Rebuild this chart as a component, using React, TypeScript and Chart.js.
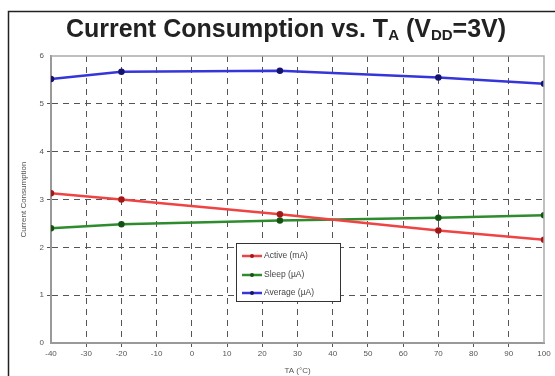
import React, { useEffect, useRef } from "react";
import { Chart, registerables } from "chart.js";

Chart.register(...registerables);

const temps = [-40, -20, 25, 70, 100];
const activeMA = [3.13, 3.0, 2.69, 2.35, 2.16];
const sleepUA = [2.4, 2.48, 2.56, 2.62, 2.67];
const averageUA = [5.52, 5.67, 5.69, 5.55, 5.42];
const seriesNames = ["Active (mA)", "Sleep (\u00B5A)", "Average (\u00B5A)"];
const xTitle = "TA (\u00B0C)";
const yTitle = "Current Consumption";

const FONT = "'Liberation Sans', Arial, sans-serif";

const framePlugin = {
  id: "framePlugin",
  beforeDraw(chart: any) {
    const { ctx, width, height } = chart;
    ctx.save();
    ctx.fillStyle = "#ffffff";
    ctx.fillRect(0, 0, width, height);
    ctx.strokeStyle = "#222";
    ctx.lineWidth = 1.5;
    ctx.beginPath();
    ctx.moveTo(8.5, height + 2);
    ctx.lineTo(8.5, 11.5);
    ctx.lineTo(width + 2, 11.5);
    ctx.stroke();
    ctx.restore();
  },
  afterDraw(chart: any) {
    const { ctx, chartArea } = chart;
    ctx.save();
    ctx.strokeStyle = "#aaa";
    ctx.lineWidth = 1.5;
    ctx.beginPath();
    ctx.moveTo(chartArea.left, chartArea.top);
    ctx.lineTo(chartArea.right, chartArea.top);
    ctx.lineTo(chartArea.right, chartArea.bottom);
    ctx.stroke();

    const big = "bold 25px " + FONT;
    const small = "bold 15px " + FONT;
    const parts: [string, boolean][] = [
      ["Current Consumption vs. T", false],
      ["A", true],
      [" (V", false],
      ["DD", true],
      ["=3V)", false],
    ];
    let total = 0;
    for (const [t, sub] of parts) {
      ctx.font = sub ? small : big;
      total += ctx.measureText(t).width;
    }
    let x = 286 - total / 2;
    const baseY = 37;
    ctx.fillStyle = "#222";
    ctx.textBaseline = "alphabetic";
    for (const [t, sub] of parts) {
      ctx.font = sub ? small : big;
      ctx.fillText(t, x, sub ? baseY + 3 : baseY);
      x += ctx.measureText(t).width;
    }

    const lx = 236, ly = 243, lw = 104, lh = 58;
    ctx.fillStyle = "#fff";
    ctx.fillRect(lx, ly, lw, lh);
    ctx.strokeStyle = "#333";
    ctx.lineWidth = 1;
    ctx.strokeRect(lx + 0.5, ly + 0.5, lw, lh);
    const rows = [13, 32, 50];
    chart.data.datasets.forEach((ds: any, i: number) => {
      const yy = ly + rows[i];
      ctx.strokeStyle = ds.borderColor;
      ctx.lineWidth = 2.5;
      ctx.beginPath();
      ctx.moveTo(lx + 6, yy);
      ctx.lineTo(lx + 26, yy);
      ctx.stroke();
      ctx.fillStyle = ds.pointBackgroundColor;
      ctx.beginPath();
      ctx.arc(lx + 16, yy, 2, 0, Math.PI * 2);
      ctx.fill();
      ctx.fillStyle = "#444";
      ctx.font = "8.5px " + FONT;
      ctx.textBaseline = "middle";
      ctx.fillText(ds.label, lx + 28, yy);
    });
    ctx.restore();
  },
};

export default function App() {
  const ref = useRef<HTMLCanvasElement>(null);
  useEffect(() => {
    document.body.style.margin = "0";
    const mk = (vals: number[]) => temps.map((t, i) => ({ x: t, y: vals[i] }));
    const chart = new Chart(ref.current!, {
      type: "line",
      data: {
        datasets: [
          {
            label: seriesNames[0],
            data: mk(activeMA),
            borderColor: "#ee4444",
            backgroundColor: "#ee4444",
            pointBackgroundColor: "#a01818",
            pointBorderColor: "#a01818",
            borderWidth: 2.5,
            pointRadius: 2,
          },
          {
            label: seriesNames[1],
            data: mk(sleepUA),
            borderColor: "#2e8b2e",
            backgroundColor: "#2e8b2e",
            pointBackgroundColor: "#145214",
            pointBorderColor: "#145214",
            borderWidth: 2.5,
            pointRadius: 2,
          },
          {
            label: seriesNames[2],
            data: mk(averageUA),
            borderColor: "#3535d8",
            backgroundColor: "#3535d8",
            pointBackgroundColor: "#14146e",
            pointBorderColor: "#14146e",
            borderWidth: 2.5,
            pointRadius: 2,
          },
        ],
      },
      options: {
        animation: false,
        responsive: false,
        layout: { padding: { top: 56, right: 11, left: 19, bottom: 0 } },
        plugins: { legend: { display: false }, tooltip: { enabled: false }, title: { display: false } },
        scales: {
          x: {
            type: "linear",
            min: -40,
            max: 100,
            ticks: { stepSize: 10, color: "#555", font: { size: 8, family: FONT }, padding: 2 },
            grid: {
              color: (c: any) => (c.index === 0 || c.tick?.value === 100 ? "rgba(0,0,0,0)" : "#555"),
              lineWidth: 1,
              tickLength: 4,
              drawTicks: true,
            },
            border: { display: true, color: "#999", width: 2, dash: [6, 5] },
            title: { display: true, text: xTitle, color: "#555", font: { size: 8, family: FONT }, padding: { top: 0, bottom: 0 } },
            afterFit: (s: any) => { s.height = 33; },
          },
          y: {
            min: 0,
            max: 6,
            ticks: { stepSize: 1, color: "#555", font: { size: 8, family: FONT }, padding: 3 },
            grid: {
              color: (c: any) => (c.tick?.value === 0 || c.tick?.value === 6 ? "rgba(0,0,0,0)" : "#555"),
              lineWidth: 1,
              tickLength: 4,
            },
            border: { display: true, color: "#999", width: 2, dash: [6, 5] },
            title: { display: true, text: yTitle, color: "#555", font: { size: 8, family: FONT }, padding: { top: 0, bottom: 4 } },
            afterFit: (s: any) => { s.width = 32; },
          },
        },
      },
      plugins: [framePlugin],
    });
    return () => chart.destroy();
  }, []);
  return <canvas ref={ref} width={555} height={376} style={{ display: "block" }} />;
}
